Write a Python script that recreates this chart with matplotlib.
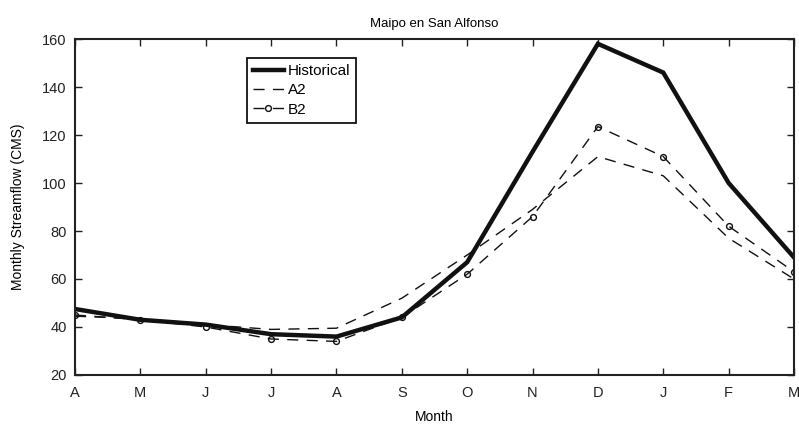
import matplotlib
matplotlib.use("Agg")
import matplotlib.pyplot as plt

months = ["A", "M", "J", "J", "A", "S", "O", "N", "D", "J", "F", "M"]
historical = [47.5, 43, 41, 37, 36, 44, 67, 113, 158, 146, 100, 69]
a2 = [44.5, 43.5, 41, 39, 39.5, 52, 70, 89, 111, 103, 77, 60]
b2 = [45, 43, 40, 35, 34, 44, 62, 86, 123.5, 111, 82, 63]

plt.rcParams['font.family'] = ['Liberation Sans', 'DejaVu Sans']

fig = plt.figure(figsize=(7.99, 4.26), dpi=100)
ax = fig.add_axes([75/799, 1-375/426, (794-75)/799, (375-39)/426])

x = list(range(len(months)))
ax.plot(x, historical, color='#111111', lw=3.2, label='Historical', solid_joinstyle='miter')
ax.plot(x, a2, color='#111111', lw=1.0, dashes=(8, 6), label='A2')
ax.plot(x, b2, color='#111111', lw=1.0, dashes=(8, 6), marker='o', ms=4.2,
        mfc='none', mec='#111111', mew=1.0, label='B2')

ax.set_xlim(0, 11)
ax.set_ylim(20, 160)
ax.set_xticks(x)
ax.set_xticklabels(months)
ax.set_yticks(range(20, 161, 20))
ax.tick_params(direction='in', top=True, right=True, labelsize=10.5, length=5, width=1,
               colors='#222222')
ax.tick_params(axis='x', pad=8)
ax.tick_params(axis='y', pad=6)
for s in ax.spines.values():
    s.set_linewidth(1.5)
    s.set_color('#222222')

ax.set_title('Maipo en San Alfonso', fontsize=9.5, pad=9)
ax.set_xlabel('Month', fontsize=10, labelpad=7)
ax.set_ylabel('Monthly Streamflow (CMS)', fontsize=10, labelpad=12)

leg = ax.legend(loc='upper left', bbox_to_anchor=((247-75)/719, 1-(58-39)/336),
                fontsize=11, handlelength=2.0, handletextpad=0.25, borderpad=0.4,
                labelspacing=0.35, fancybox=False, edgecolor='#111111', framealpha=1,
                borderaxespad=0)
leg.get_frame().set_linewidth(1.3)

fig.savefig('out.png', dpi=100)
